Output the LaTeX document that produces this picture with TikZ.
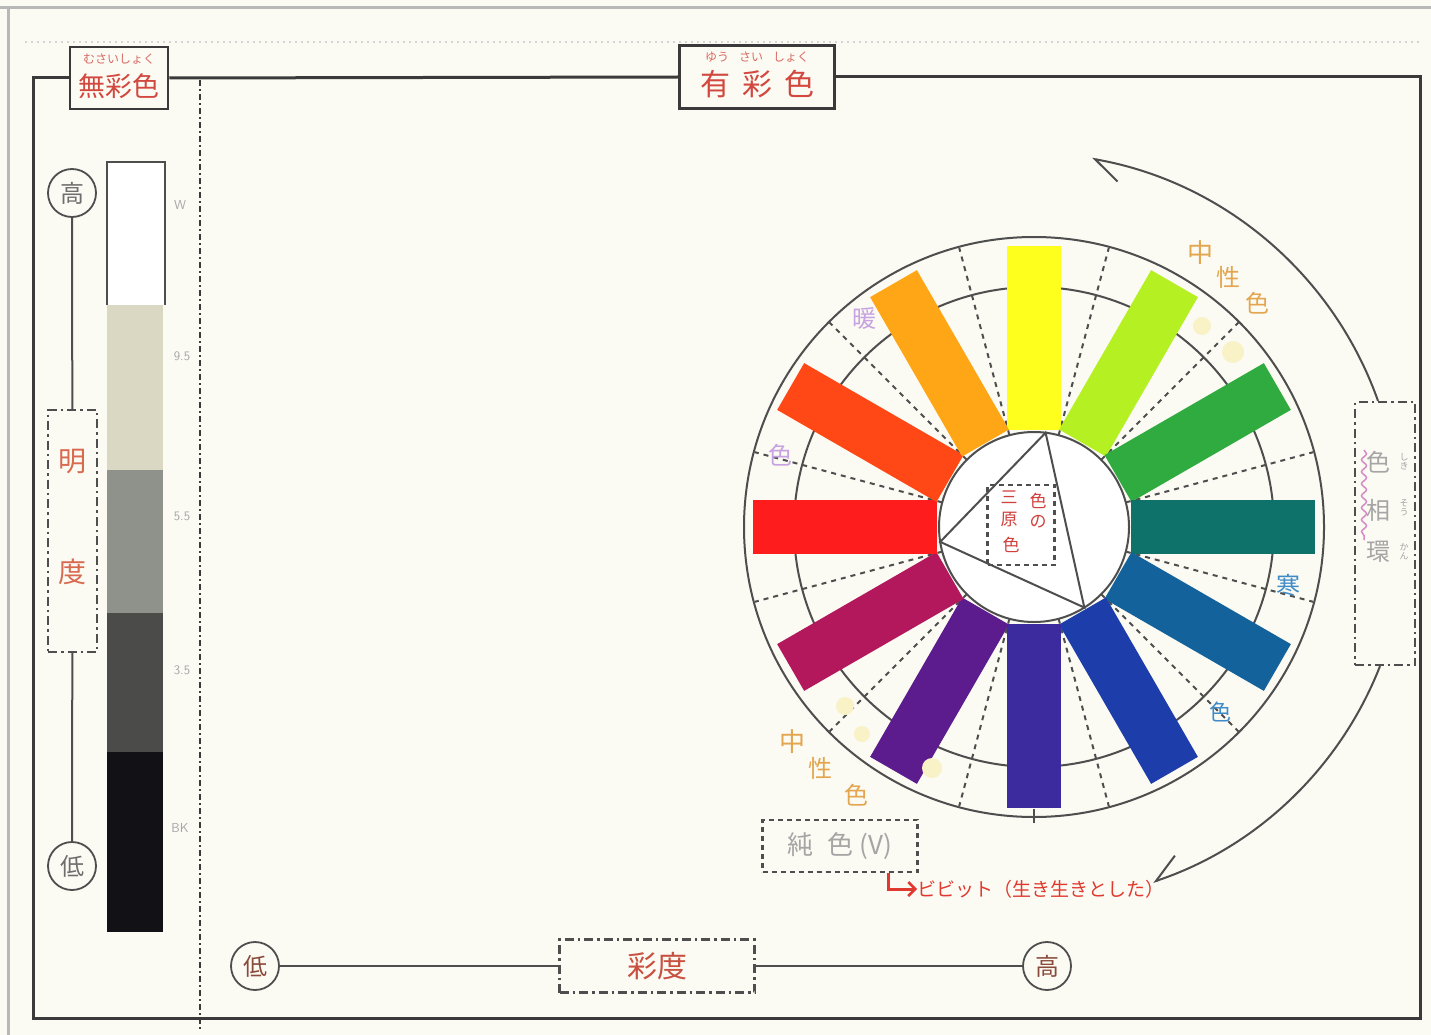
\documentclass[tikz,border=0pt]{standalone}
\usepackage{fontspec}
\newfontfamily\jp{Noto Sans CJK JP}
\usetikzlibrary{arrows.meta,decorations.pathmorphing,calc}
\definecolor{paper}{HTML}{FBFAF3}
\definecolor{frameC}{HTML}{3A3A3A}
\definecolor{lineC}{HTML}{4E4E4E}
\definecolor{faintC}{HTML}{B8B8B8}
\definecolor{titleR}{HTML}{D2473E}
\definecolor{furiR}{HTML}{DA6A62}
\definecolor{meidoC}{HTML}{D86A50}
\definecolor{saidoC}{HTML}{C85040}
\definecolor{circTxt}{HTML}{6E6E6E}
\definecolor{botTxt}{HTML}{8A4A3A}
\definecolor{gtext}{HTML}{A5A5A5}
\definecolor{warmC}{HTML}{C7A2E2}
\definecolor{coldC}{HTML}{3F8CC8}
\definecolor{neutC}{HTML}{E3A64E}
\definecolor{blobC}{HTML}{F8F2C6}
\definecolor{vivC}{HTML}{E03A30}
\definecolor{sanC}{HTML}{D0403C}
\definecolor{pinkC}{HTML}{D58AC8}
\definecolor{g1}{HTML}{DAD7C2}
\definecolor{g2}{HTML}{8F928B}
\definecolor{g3}{HTML}{4B4B49}
\definecolor{g4}{HTML}{111116}
\definecolor{cYel}{HTML}{FFFF1E}
\definecolor{cYG}{HTML}{B4F022}
\definecolor{cGrn}{HTML}{30AB3F}
\definecolor{cTeal}{HTML}{0E726A}
\definecolor{cCB}{HTML}{13629C}
\definecolor{cBlue}{HTML}{1C3DAA}
\definecolor{cInd}{HTML}{3B2B9E}
\definecolor{cPur}{HTML}{5C1C8E}
\definecolor{cRP}{HTML}{B3185C}
\definecolor{cRed}{HTML}{FF1C1C}
\definecolor{cRO}{HTML}{FF4816}
\definecolor{cOra}{HTML}{FFA616}
\begin{document}
\begin{tikzpicture}[x=1pt,y=-1pt,
  jpt/.style={font=\jp\fontsize{#1}{#1}\selectfont, inner sep=0pt},
  frameline/.style={draw=frameC, line width=3pt},
  tbox/.style={draw=frameC, line width=2.5pt, inner sep=0pt, fill=paper},
  circ/.style={circle, draw=lineC, line width=1.8pt, minimum size=48pt, inner sep=0pt, font=\jp\fontsize{24}{24}\selectfont},
  dd/.style={draw=lineC, line width=2.2pt, dash pattern=on 9pt off 4pt on 2.5pt off 4pt},
  dbox/.style={dd, inner sep=0pt},
  dotbox/.style={draw=lineC, line width=2.4pt, dash pattern=on 5pt off 4pt, inner sep=0pt},
  conn/.style={draw=lineC, line width=2pt},
  wline/.style={draw=lineC, line width=2pt},
  rad/.style={draw=lineC, line width=2pt, dash pattern=on 5pt off 5pt},
  bigarc/.style={draw=lineC, line width=2pt},
  gl/.style={font=\sffamily\fontsize{13}{13}\selectfont, text=gtext, inner sep=0pt},
]
\fill[paper] (0,0) rectangle (1431,1035);
\useasboundingbox (0,0) rectangle (1431,1035);
% faint paper edges
\draw[faintC, line width=3pt] (0,8) -- (1431,8);
\draw[faintC, line width=3pt] (8,8) -- (8,1035);
\draw[faintC!60, line width=1.5pt, dash pattern=on 2pt off 4pt] (25,42) -- (1422,42);

% title boxes
\node[tbox, minimum width=98pt, minimum height=62pt] (mus) at (119,78) {};
\node[jpt=12, text=furiR] (musF) at (119,59) {むさいしょく};
\node[jpt=27, text=titleR] (musT) at (119,86) {無彩色};
\node[tbox, minimum width=155pt, minimum height=63pt] (yus) at (757,77) {};
\node[jpt=12, text=furiR] (yusF) at (757,57) {ゆう\hspace{10pt}さい\hspace{10pt}しょく};
\node[jpt=30, text=titleR] (yusT) at (757,84) {有\hspace{12pt}彩\hspace{12pt}色};

% main frame
\draw[frameline] (mus.west) -- (33,78) -- (33,1018) -- (1420,1018) -- (1420,77) -- (yus.east);
\draw[frameline] (mus.east) -- (yus.west);
% separator
\draw[draw=frameC, line width=2.2pt, dash pattern=on 6pt off 3pt on 2pt off 3pt] (200,80) -- (200,1030);

% gray scale
\fill[white] (107,162) rectangle (165,305);
\draw[lineC, line width=1.5pt] (107,305) -- (107,162) -- (165,162) -- (165,305);
\fill[g1] (107,305) rectangle (163,470);
\fill[g2] (107,470) rectangle (163,613);
\fill[g3] (107,613) rectangle (163,752);
\fill[g4] (107,752) rectangle (163,932);
\node[gl] (lW) at (180,205) {W};
\node[gl] (l95) at (182,356) {9.5};
\node[gl] (l55) at (182,516) {5.5};
\node[gl] (l35) at (182,670) {3.5};
\node[gl] (lBK) at (180,828) {BK};

% lightness axis
\node[circ, text=circTxt] (hiL) at (72,193) {高};
\node[circ, text=circTxt] (loL) at (72,866) {低};
\node[dbox, minimum width=49pt, minimum height=242pt] (meido) at (72.5,531) {};
\node[jpt=28, text=meidoC] (mei) at (72,462) {明};
\node[jpt=28, text=meidoC] (do) at (72,572) {度};
\draw[conn] (hiL) -- (meido);
\draw[conn] (meido) -- (loL);

% chroma axis
\node[circ, text=botTxt] (loB) at (255,966) {低};
\node[circ, text=botTxt] (hiB) at (1047,966) {高};
\node[dbox, minimum width=195pt, minimum height=53pt, jpt=30, text=saidoC] (saido) at (657,966) {彩度};
\draw[conn] (loB) -- (saido);
\draw[conn] (saido) -- (hiB);

% colour wheel
\begin{scope}[shift={(1034,527)}]
  \foreach \a in {0,30,...,330} {
    \draw[rad] (-\a-15:95) -- (-\a-15:289);
  }
  \draw[wline] (0,0) circle (290);
  \draw[wline] (0,0) circle (240);
  \filldraw[wline, fill=white] (0,0) circle (95);
  \draw[wline] (0,282) -- (0,296);
  \foreach \a/\c in {90/cYel,60/cYG,30/cGrn,0/cTeal,-30/cCB,-60/cBlue,-90/cInd,-120/cPur,-150/cRP,180/cRed,150/cRO,120/cOra} {
    \fill[\c, rotate=\a] (97,-27) rectangle (281,27);
  }
  \draw[wline] (-83:95) -- (-189:95) -- (58:95) -- cycle;
\end{scope}

% primary colours box
\node[dotbox, minimum width=67pt, minimum height=80pt] (sangen) at (1021,525) {};
\node[jpt=17, text=sanC] (s1) at (1038,501) {色};
\node[jpt=17, text=sanC] (s2) at (1038,522) {の};
\node[jpt=17, text=sanC] (s3) at (1009,497) {三};
\node[jpt=17, text=sanC] (s4) at (1009,520) {原};
\node[jpt=17, text=sanC] (s5) at (1011,545) {色};

% faint erased marks
\fill[blobC] (1202,326) circle (9pt);
\fill[blobC] (1233,352) circle (11pt);
\fill[blobC] (845,706) circle (9pt);
\fill[blobC] (862,734) circle (8pt);
\fill[blobC] (932,768) circle (10pt);

% wheel labels
\node[jpt=24, text=warmC] (dan) at (864,318) {暖};
\node[jpt=24, text=warmC] (danS) at (780,455) {色};
\node[jpt=24, text=coldC] (kan) at (1288,585) {寒};
\node[jpt=22, text=coldC] (kanS) at (1220,712) {色};
\node[jpt=26, text=neutC] (n1) at (1200,253) {中};
\node[jpt=24, text=neutC] (n2) at (1228,277) {性};
\node[jpt=24, text=neutC] (n3) at (1257,303) {色};
\node[jpt=26, text=neutC] (m1) at (792,742) {中};
\node[jpt=24, text=neutC] (m2) at (820,768) {性};
\node[jpt=24, text=neutC] (m3) at (856,795) {色};

% hue circle box
\node[dbox, minimum width=60pt, minimum height=263pt] (sokan) at (1385,533.5) {};
\node[jpt=24, text=gtext] (k1) at (1378,462) {色};
\node[jpt=24, text=gtext] (k2) at (1378,510) {相};
\node[jpt=24, text=gtext] (k3) at (1378,552) {環};
\node[jpt=9, text=gtext, align=center] (f1) at (1404,462) {し\\き};
\node[jpt=9, text=gtext, align=center] (f2) at (1404,508) {そ\\う};
\node[jpt=9, text=gtext, align=center] (f3) at (1404,552) {か\\ん};
\draw[pinkC, line width=1.5pt, decorate, decoration={snake, amplitude=2.5pt, segment length=12pt}] (1364,450) -- (1364,540);

\draw[bigarc, -{Straight Barb[harpoon, length=26pt, width=36pt, line width=2pt]}]
  ([xshift=-7pt]sokan.north) arc[start angle=-19.5, end angle=-80, radius=372];
\draw[bigarc, -{Straight Barb[harpoon, swap, length=26pt, width=36pt, line width=2pt]}]
  ([xshift=-5pt]sokan.south) arc[start angle=21.4, end angle=71.5, radius=370];

% pure colour
\node[dotbox, minimum width=155pt, minimum height=52pt, jpt=26, text=gtext] (jun) at (840,846) {純\hspace{14pt}色\hspace{6pt}(V)};
\node[jpt=19, text=vivC, anchor=west] (vivid) at (917,889) {ビビット（生き生きとした）};
\draw[vivC, line width=3pt, -{Straight Barb[length=7pt, width=14pt, line width=2.5pt]}]
  ([xshift=-30pt]jun.south east) |- (vivid.west);
\end{tikzpicture}
\end{document}
